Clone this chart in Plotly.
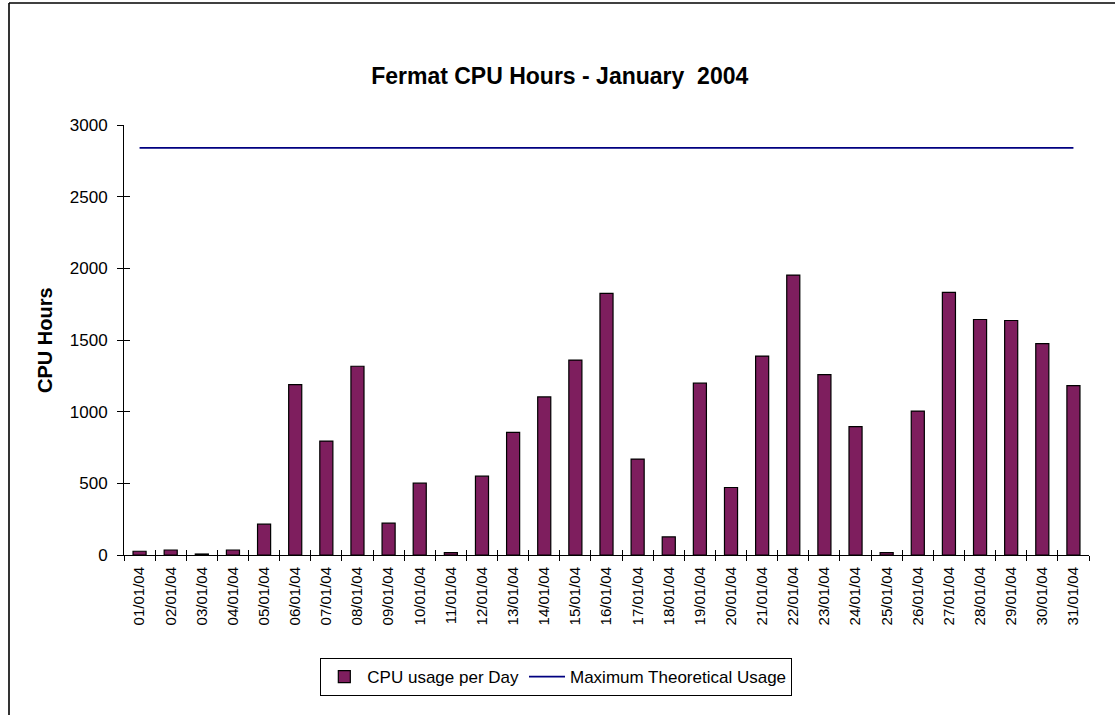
import plotly.graph_objects as go

days = ["01/01/04", "02/01/04", "03/01/04", "04/01/04", "05/01/04", "06/01/04",
        "07/01/04", "08/01/04", "09/01/04", "10/01/04", "11/01/04", "12/01/04",
        "13/01/04", "14/01/04", "15/01/04", "16/01/04", "17/01/04", "18/01/04",
        "19/01/04", "20/01/04", "21/01/04", "22/01/04", "23/01/04", "24/01/04",
        "25/01/04", "26/01/04", "27/01/04", "28/01/04", "29/01/04", "30/01/04",
        "31/01/04"]

cpu_usage = [26, 35, 7, 35, 215, 1189, 795, 1317, 222, 501, 16, 550,
             855, 1103, 1360, 1825, 669, 126, 1199, 471, 1388, 1953, 1258, 895,
             16, 1004, 1832, 1643, 1636, 1475, 1181]

max_usage = [2840, 2840, 2840, 2840, 2840, 2840, 2840, 2840, 2840, 2840, 2840,
             2840, 2840, 2840, 2840, 2840, 2840, 2840, 2840, 2840, 2840, 2840,
             2840, 2840, 2840, 2840, 2840, 2840, 2840, 2840, 2840]

y_ticks = [0, 500, 1000, 1500, 2000, 2500, 3000]

FONT = "Liberation Sans, Arial, sans-serif"

fig = go.Figure()
fig.add_trace(go.Bar(
    x=days, y=cpu_usage, name="CPU usage per Day",
    marker=dict(color="#7E1E5E", line=dict(color="black", width=1.2)),
))
fig.add_trace(go.Scatter(
    x=days, y=max_usage, name="Maximum Theoretical Usage", mode="lines",
    line=dict(color="#000080", width=1.8), xaxis="x2", yaxis="y2",
))

fig.update_layout(
    width=1115, height=715,
    margin=dict(l=124, r=26, t=125, b=160),
    paper_bgcolor="white", plot_bgcolor="white",
    font=dict(family=FONT, size=17, color="black"),
    bargap=0.58,
    showlegend=True,
    title=dict(text="<b>Fermat CPU Hours - January  2004</b>",
               font=dict(family=FONT, size=23, color="black"),
               x=0.502, xref="container", xanchor="center",
               y=1 - 76 / 715, yref="container", yanchor="middle"),
    legend=dict(orientation="h", x=0.448, xanchor="center", y=-0.2395, yanchor="top",
                bordercolor="black", borderwidth=1, bgcolor="white",
                font=dict(family=FONT, size=17, color="black"),
                itemwidth=36, tracegroupgap=0),
    xaxis=dict(type="category", categoryarray=days, range=[-0.5, 30.5],
               showline=True, linecolor="black", linewidth=1,
               ticks="outside", ticklen=5, tickcolor="black", tickson="boundaries",
               tickangle=-90, showgrid=False, zeroline=False, ticklabelstandoff=5,
               tickfont=dict(family=FONT, size=15, color="black")),
    yaxis=dict(range=[0, 3000], tickvals=y_ticks, showline=True, linecolor="black",
               linewidth=1, ticks="outside", ticklen=6, tickcolor="black",
               showgrid=False, zeroline=False, ticklabelstandoff=6,
               tickfont=dict(family=FONT, size=17, color="black")),
    xaxis2=dict(type="category", categoryarray=days, range=[-0.5, 30.5],
                overlaying="x", side="bottom", showline=False,
                ticks="inside", ticklen=5, tickcolor="black", tickson="boundaries",
                showticklabels=False, showgrid=False, zeroline=False),
    yaxis2=dict(range=[0, 3000], tickvals=y_ticks, overlaying="y", side="left",
                showline=False, ticks="inside", ticklen=6, tickcolor="black",
                showticklabels=False, showgrid=False, zeroline=False),
    annotations=[dict(text="<b>CPU Hours</b>", textangle=-90, xref="paper", yref="paper",
                      x=(45 - 124) / 965, y=0.5, xanchor="center", yanchor="middle",
                      showarrow=False, font=dict(family=FONT, size=20, color="black"))],
    shapes=[
        dict(type="line", xref="paper", yref="paper", x0=(9 - 124) / 965, x1=1.05,
             y0=(555 - 3) / 430, y1=(555 - 3) / 430, line=dict(color="black", width=1.6)),
        dict(type="line", xref="paper", yref="paper", x0=(9 - 124) / 965, x1=(9 - 124) / 965,
             y0=(555 - 3) / 430, y1=-0.5, line=dict(color="black", width=1.6)),
    ],
)

fig.write_html("out.html", config={"displayModeBar": False},
               post_script="document.body.style.margin='0';")
